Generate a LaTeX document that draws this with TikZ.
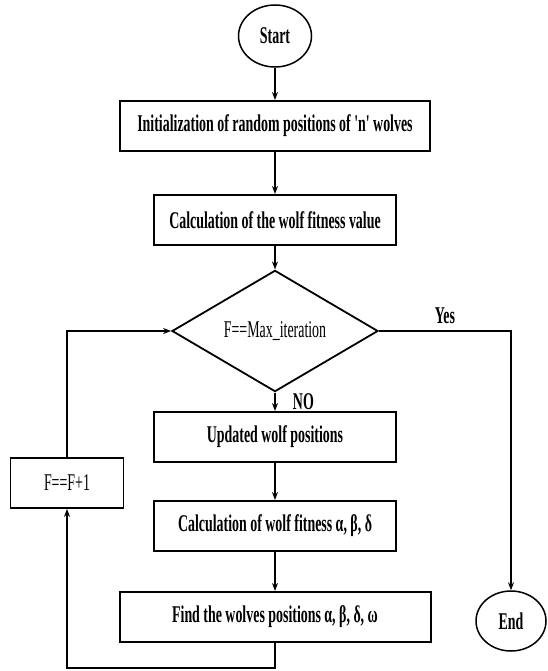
\documentclass[tikz,border=0pt]{standalone}
\usepackage{fontspec}
\setmainfont{Liberation Serif}[FakeStretch=0.58]
\newfontfamily\plainquote{Liberation Serif}[FakeStretch=0.58]
\usetikzlibrary{
  shapes.geometric, % For ellipse and diamond
  arrows.meta % For arrow tips
}

\begin{document}
\begin{tikzpicture}[
      x=1pt, y=1pt,
      font=\fontsize{24}{27}\selectfont\bfseries,
      >={Stealth[length=8pt,width=6pt]}, % Default arrow tip
      terminal/.style={ellipse, draw, line width=1.5pt, inner sep=0pt,
        minimum width=73pt, minimum height=62pt},
      process/.style={rectangle, draw, line width=2pt, inner sep=0pt,
        minimum height=50pt},
      decision/.style={diamond, draw, line width=1.8pt, inner sep=0pt,
        minimum width=206pt, minimum height=95pt},
      flow/.style={line width=1.3pt, ->},
    ]

    % Rahmen
    \useasboundingbox (0,0) rectangle (548,-671);

    % Spalte
    \def\cx{275}

    % Knoten
    \node[terminal] (start) at (\cx,-36) {Start};
    \node[process, minimum width=310pt] (init) at (\cx,-126)
      {Initialization of random positions of {\plainquote\bfseries 'n'} wolves};
    \node[process, minimum width=242pt] (fit) at (\cx,-220)
      {Calculation of the wolf fitness value};
    \node[decision] (check) at (\cx,-331) {\mdseries F==Max\_iteration};
    \node[process, minimum width=242pt] (update) at (\cx,-437)
      {Updated wolf positions};
    \node[process, minimum width=242pt] (calc) at (\cx,-526)
      {Calculation of wolf fitness α, β, δ};
    \node[process, minimum width=311pt] (find) at (\cx,-617)
      {Find the wolves positions α, β, δ, ω};
    \node[process, minimum width=113pt, line width=1.8pt] (incr) at (67,-483)
      {\mdseries F==F+1};
    \node[terminal, minimum width=70pt, minimum height=60pt] (finish) at (511,-621) {End};

    % Hilfspunkte der Schleife
    \coordinate (loopbot) at (67,-668);

    % Hauptpfad
    \foreach \i/\j in {start/init, init/fit, fit/check, update/calc, calc/find}
    \draw[flow] (\i) -- (\j);

    % Verzweigungen
    \draw[flow] (check) -- (update) node[midway, right=14pt] {NO};
    \draw[flow] (check.east) -| (finish.north) node[pos=0.25, above=3pt] {Yes};

    % Schleife F+1
    \draw[flow] (find.south) |- (loopbot) -- (incr.south);
    \draw[flow] (incr.north) |- (check.west);
  \end{tikzpicture}
\end{document}
